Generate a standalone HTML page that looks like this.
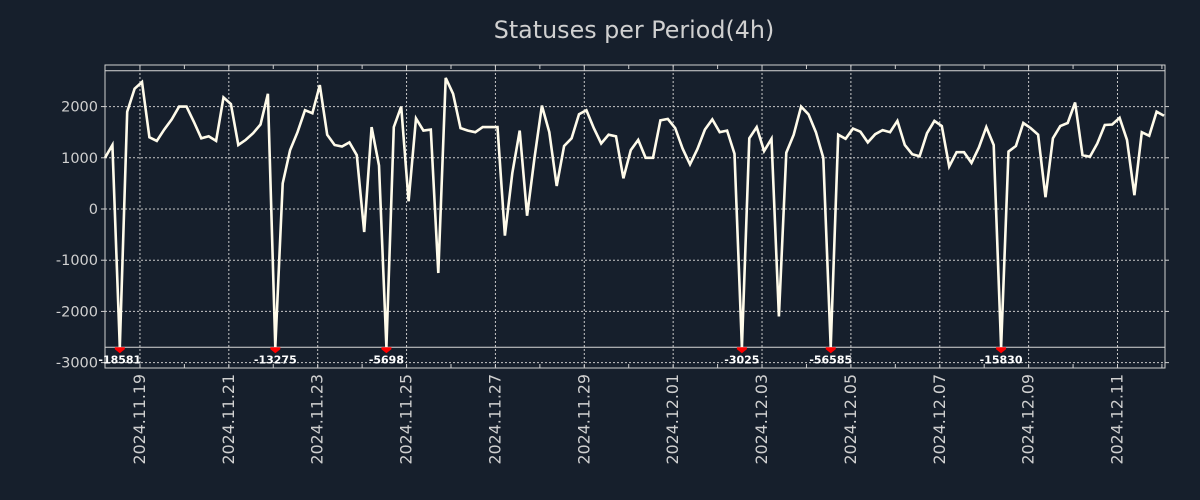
<!DOCTYPE html>
<html><head><meta charset="utf-8"><style>
html,body{margin:0;padding:0;background:#161f2c;}
svg{display:block;font-family:"DejaVu Sans","Liberation Sans",sans-serif;}
</style></head><body>
<svg id="chart" width="1200" height="500">
<rect width="1200" height="500" fill="#161f2c"/>
<text x="634" y="38" text-anchor="middle" font-size="23.8" fill="#d0d0d0">Statuses per Period(4h)</text>
<g id="grid"></g><g id="axes"></g><g id="series"></g><g id="marks"></g>
</svg>
<script>
const values=[1000,1250,-18581,1900,2350,2480,1400,1330,1550,1750,2000,2000,1700,1380,1420,1330,2180,2050,1250,1350,1480,1650,2250,-13275,500,1150,1500,1930,1870,2420,1450,1250,1220,1300,1050,-450,1600,850,-5698,1600,2000,150,1770,1530,1550,-1250,2560,2250,1580,1530,1500,1600,1600,1600,-520,700,1530,-130,1000,2020,1500,450,1230,1380,1850,1930,1580,1280,1450,1420,600,1150,1350,1000,1000,1730,1760,1580,1180,870,1170,1550,1750,1500,1530,1080,-3025,1380,1600,1130,1370,-2100,1100,1450,2000,1850,1500,1000,-56585,1450,1370,1570,1510,1300,1460,1540,1500,1720,1250,1070,1030,1480,1720,1620,830,1110,1110,900,1200,1600,1250,-15830,1120,1230,1680,1580,1450,230,1380,1620,1680,2080,1050,1020,1280,1640,1650,1780,1350,270,1500,1430,1900,1820];
const yTicks=[2000,1000,0,-1000,-2000,-3000];
const dateLabels=["2024.11.19","2024.11.21","2024.11.23","2024.11.25","2024.11.27","2024.11.29","2024.12.01","2024.12.03","2024.12.05","2024.12.07","2024.12.09","2024.12.11"];
const firstDayIndex=4.72, pointsPerDay=6, clipLow=-2700, clipHigh=2700;
const L=105,R=1165,T=65,B=368,yMax=2812,yMin=-3105;
const X=i=>L+(R-L-1)*i/(values.length-1);
const Y=v=>T+(yMax-v)/(yMax-yMin)*(B-T);
const NS="http://www.w3.org/2000/svg";
function mk(tag,attrs,parent){const e=document.createElementNS(NS,tag);for(const k in attrs)e.setAttribute(k,attrs[k]);document.getElementById(parent).appendChild(e);return e;}
yTicks.forEach(v=>{
  const g=mk('line',{x1:L,x2:R,y1:Y(v),y2:Y(v),stroke:'#c8c8c8','stroke-width':1,'stroke-dasharray':'2,2'},'grid');
  
  
  const t=mk('text',{x:L-7,y:Y(v)+5,'text-anchor':'end','font-size':14.5,fill:'#d0d0d0'},'axes');
  t.textContent=v;
  
  
  mk('line',{x1:L-4,x2:L,y1:Y(v),y2:Y(v),stroke:'#d0d0d0'},'axes');
  mk('line',{x1:R,x2:R+4,y1:Y(v),y2:Y(v),stroke:'#d0d0d0'},'axes');
});
for(let d=-1;d<24;d++){
  const x=X(firstDayIndex+pointsPerDay*d);
  if(x<L||x>R)continue;
  mk('line',{x1:x,x2:x,y1:T,y2:T+4,stroke:'#d0d0d0'},'axes');
  mk('line',{x1:x,x2:x,y1:B-4,y2:B,stroke:'#d0d0d0'},'axes');
}
dateLabels.forEach((lab,k)=>{
  const x=X(firstDayIndex+pointsPerDay*2*k);
  const g=mk('line',{x1:x,x2:x,y1:T,y2:B,stroke:'#c8c8c8','stroke-width':1,'stroke-dasharray':'2,2'},'grid');
  
  
  const t=mk('text',{x:0,y:0,'font-size':15.8,fill:'#d0d0d0','text-anchor':'end',transform:`translate(${x+5},${B+6}) rotate(-90)`},'axes');
  t.textContent=lab;
  
  
});
[clipHigh,clipLow].forEach(v=>{
  const l=mk('line',{x1:L,x2:R,y1:Y(v),y2:Y(v),stroke:'#d8d8d8','stroke-width':1},'grid');
  
  
});
const fr=mk('rect',{x:L,y:T,width:R-L,height:B-T,fill:'none',stroke:'#d0d0d0','stroke-width':1},'axes');


const pts=values.map((v,i)=>X(i).toFixed(1)+','+Y(Math.max(clipLow,Math.min(v,clipHigh+200))).toFixed(1)).join(' ');
const pl=mk('polyline',{points:pts,fill:'none',stroke:'#fffbea','stroke-width':2.6,'stroke-linejoin':'miter'},'series');


values.forEach((v,i)=>{
  if(v>=clipLow)return;
  const x=X(i),y=Y(clipLow);
  const m=mk('path',{d:`M${x-5},${y} L${x+5},${y} L${x+5},${y+2} L${x},${y+6} L${x-5},${y+2}Z`,fill:'#ff0000'},'marks');
  
  
  const t=mk('text',{x:x,y:y+16,'text-anchor':'middle','font-size':11,'font-weight':'bold',fill:'#ffffff'},'marks');
  t.textContent=v;
  
  
});
</script>
</body></html>
